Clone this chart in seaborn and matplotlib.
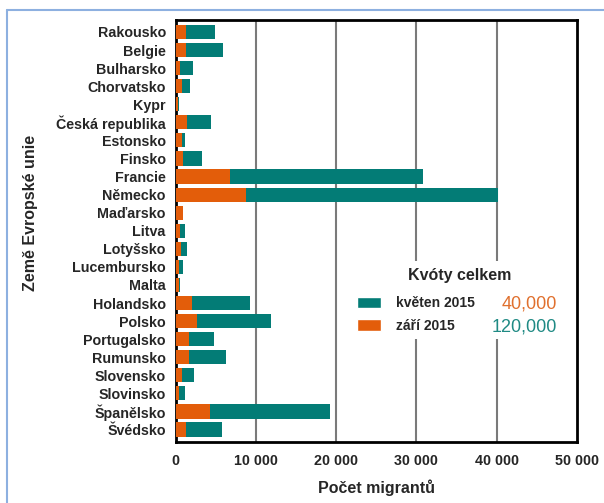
import numpy as np
import pandas as pd
import matplotlib.pyplot as plt
import seaborn as sns
from matplotlib.patches import Patch, Rectangle
from matplotlib.lines import Line2D

# data - quotas per country (May 2015 = 40 000, Sept 2015 = 120 000)
countries = ['Rakousko', 'Belgie', 'Bulharsko', 'Chorvatsko', 'Kypr', 'Česká republika',
             'Estonsko', 'Finsko', 'Francie', 'Německo', 'Maďarsko', 'Litva', 'Lotyšsko',
             'Lucembursko', 'Malta', 'Holandsko', 'Polsko', 'Portugalsko', 'Rumunsko',
             'Slovensko', 'Slovinsko', 'Španělsko', 'Švédsko']
may_2015 = [1300, 1364, 620, 760, 250, 1450, 830, 950, 6752, 8763, 900, 540, 650,
            450, 380, 2047, 2659, 1701, 1705, 785, 495, 4288, 1364]
sep_2015 = [3640, 4564, 1600, 1064, 200, 2978, 373, 2398, 24031, 31443, 0, 620, 720,
            500, 120, 7214, 9287, 3074, 4646, 1502, 631, 14931, 4469]
legend_labels = ['květen 2015', 'září 2015']
legend_totals = ['40,000', '120,000']

df = pd.DataFrame({'Country': countries, 'May': may_2015, 'Sep': sep_2015})
df['Total'] = df['May'] + df['Sep']

orange = '#E35D0A'
teal = '#037C76'

sns.set_style('white')
plt.rcParams['font.family'] = ['Liberation Sans', 'DejaVu Sans']

fig = plt.figure(figsize=(6.04, 5.03), dpi=100)
ax = fig.add_axes([175.5/604, 1-442/503, 401.5/604, 422.5/503])

sns.barplot(data=df, x='Total', y='Country', color=teal, saturation=1, width=0.78,
            linewidth=0, orient='h', ax=ax, zorder=3)
sns.barplot(data=df, x='May', y='Country', color=orange, saturation=1, width=0.78,
            linewidth=0, orient='h', ax=ax, zorder=3)

ax.set_xlim(0, 50000)
ax.set_ylim(len(countries) - 1 + 0.69, -0.69)
ax.set_xticks([0, 10000, 20000, 30000, 40000, 50000])
ax.set_xticklabels(['0', '10 000', '20 000', '30 000', '40 000', '50 000'],
                   fontsize=10.3, fontweight='bold')
ax.set_yticklabels(countries, fontsize=10.3, fontweight='bold')
ax.tick_params(axis='x', length=0, pad=8.5)
ax.tick_params(axis='y', length=0, pad=7)

for xv in [10000, 20000, 30000, 40000]:
    ax.axvline(xv, color='#7a7a7a', lw=1.5, zorder=1)

for s in ax.spines.values():
    s.set_color('black')
    s.set_linewidth(2)

ax.set_xlabel('Počet migrantů', fontsize=11.5, fontweight='bold', va='center')
ax.set_ylabel('Země Evropské unie', fontsize=11.5, fontweight='bold', va='center')
ax.xaxis.set_label_coords(0.5, -0.109)
ax.yaxis.set_label_coords(-0.362, 0.542)

# legend area
ax.add_patch(Rectangle((0.44, 0.244), 0.555, 0.185, transform=ax.transAxes,
                       facecolor='white', edgecolor='none', zorder=4))
handles = [Patch(facecolor=teal), Patch(facecolor=orange)]
leg = ax.legend(handles, legend_labels, loc='upper left', bbox_to_anchor=(0.452, 0.345),
                frameon=False, borderpad=0, borderaxespad=0, handlelength=1.7,
                handleheight=0.9, handletextpad=1.1, labelspacing=0.6,
                prop={'weight': 'bold', 'size': 10})
leg.set_zorder(5)
ax.text(0.709, 0.393, 'Kvóty celkem', transform=ax.transAxes, ha='center', va='center',
        fontsize=11.5, fontweight='bold', zorder=6)
ax.text(0.95, 0.327, legend_totals[0], transform=ax.transAxes, ha='right', va='center',
        fontsize=13, color='#E0702E', zorder=6)
ax.text(0.95, 0.272, legend_totals[1], transform=ax.transAxes, ha='right', va='center',
        fontsize=13, color='#1F8A84', zorder=6)

# light blue frame around the picture
fig.add_artist(Line2D([7/604, 7/604], [0, 1-10/503], color='#8DB0E0', lw=1.5))
fig.add_artist(Line2D([7/604, 1], [1-10/503, 1-10/503], color='#8DB0E0', lw=1.5))

fig.savefig('out.png', dpi=100)
